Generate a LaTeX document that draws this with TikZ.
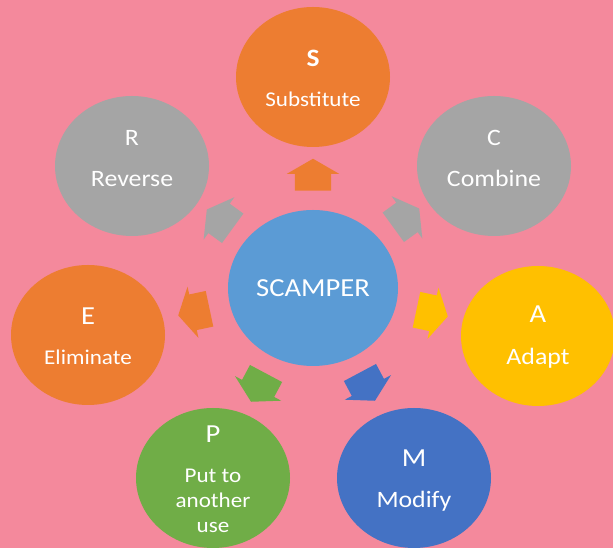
\documentclass[tikz,border=0pt]{standalone}
\usepackage{fontspec}
\setmainfont{Carlito}
\usetikzlibrary{shapes.geometric,shapes.arrows}

\definecolor{bgpink}{HTML}{F4899C}
\definecolor{scorange}{HTML}{ED7D31}
\definecolor{scgray}{HTML}{A5A5A5}
\definecolor{scyellow}{HTML}{FFC000}
\definecolor{sclight}{HTML}{5B9BD5}
\definecolor{scblue}{HTML}{4472C4}
\definecolor{scgreen}{HTML}{70AD47}

\tikzset{
  idea/.style={ellipse, draw=none, inner sep=0pt, minimum width=154pt, minimum height=140pt},
  hub/.style={ellipse, draw=none, inner sep=0pt, fill=sclight, minimum width=170pt, minimum height=156pt},
  blockarrow/.style={single arrow, draw=none, inner xsep=0pt, inner ysep=18pt, minimum height=32pt,
    single arrow head extend=8pt, single arrow tip angle=120},
  letter/.style={text=white, anchor=base, inner sep=0pt, xscale=1.1, font=\fontsize{26}{30}\selectfont},
  smallletter/.style={text=white, anchor=base, inner sep=0pt, xscale=1.1, font=\fontsize{23.5}{28}\selectfont},
  word/.style={text=white, anchor=base, inner sep=0pt, xscale=1.1, font=\fontsize{23.5}{28}\selectfont},
  smallword/.style={text=white, anchor=base, inner sep=0pt, xscale=1.1, font=\fontsize{21}{25}\selectfont},
}

\begin{document}
\begin{tikzpicture}[x=1pt,y=1pt]
  \fill[bgpink] (0,0) rectangle (613,548) ;
  \useasboundingbox (0,0) rectangle (613,548) ;
  \clip (0,0) rectangle (613,548) ;

  % circles
  \node[hub] (hub) at (313,260) {} ;
  \node[idea, fill=scorange] (subst) at (313,471) {} ;
  \node[idea, fill=scgray] (comb) at (494,382) {} ;
  \node[idea, fill=scyellow] (adapt) at (538,212) {} ;
  \node[idea, fill=scblue] (modif) at (414,70) {} ;
  \node[idea, fill=scgreen] (putuse) at (213,70) {} ;
  \node[idea, fill=scorange] (elim) at (88,213) {} ;
  \node[idea, fill=scgray] (rev) at (132,382) {} ;

  % arrows
  \node[blockarrow, fill=scorange, rotate=90] (arrS) at (313,368) {} ;
  \node[blockarrow, fill=scgray, rotate=36] (arrC) at (402,327) {} ;
  \node[blockarrow, fill=scyellow, rotate=-12] (arrA) at (427,236) {} ;
  \node[blockarrow, fill=scblue, rotate=-62] (arrM) at (365,166) {} ;
  \node[blockarrow, fill=scgreen, rotate=242] (arrP) at (261,165) {} ;
  \node[blockarrow, fill=scorange, rotate=192] (arrE) at (199,237) {} ;
  \node[blockarrow, fill=scgray, rotate=144] (arrR) at (224,326) {} ;

  % texts
  \node[text=white, anchor=base, xscale=1.1, font=\fontsize{26}{30}\selectfont] (hubtext) at (313,251) {SCAMPER} ;
  \node[smallletter, font=\fontsize{25}{28}\selectfont\bfseries] (substl) at (313,481) {S} ;
  \node[smallword] (substw) at (313,441) {Substitute} ;
  \node[smallletter] (combl) at (494,402) {C} ;
  \node[word] (combw) at (494,361) {Combine} ;
  \node[letter] (adaptl) at (538,225) {A} ;
  \node[word] (adaptw) at (538,183) {Adapt} ;
  \node[letter] (modifl) at (414,81) {M} ;
  \node[word] (modifw) at (414,40) {Modify} ;
  \node[letter] (putusel) at (213,105) {P} ;
  \node[smallword] (putusea) at (213,65) {Put to} ;
  \node[smallword] (putuseb) at (213,40) {another} ;
  \node[smallword] (putusec) at (213,15) {use} ;
  \node[letter] (eliml) at (88,223) {E} ;
  \node[smallword] (elimw) at (88,183) {Eliminate} ;
  \node[smallletter] (revl) at (132,402) {R} ;
  \node[word] (revw) at (132,361) {Reverse} ;
\end{tikzpicture}
\end{document}
